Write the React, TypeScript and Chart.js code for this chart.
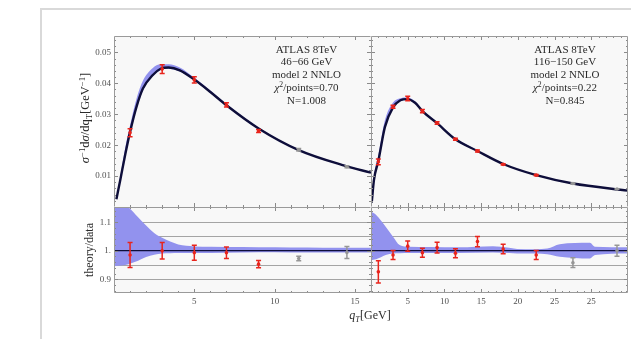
import React, { useEffect, useRef } from "react";
import { Chart, registerables } from "chart.js";

Chart.register(...registerables);

// ---------------- data: left panel (46–66 GeV) ----------------
const binCentersLeft = [1, 3, 5, 7, 9, 11.5, 14.5];
const dataLeft = [0.024, 0.0446, 0.0411, 0.033, 0.0246, 0.0185, 0.013];
const errLeft = [0.0013, 0.0014, 0.001, 0.0007, 0.0005, 0.0004, 0.0003];
const fittedLeft = [true, true, true, true, true, false, false];
const ratioLeft = [0.985, 1.0, 0.993, 0.993, 0.953, 0.973, 0.994];
const ratioErrLeft = [0.044, 0.029, 0.026, 0.02, 0.013, 0.008, 0.021];

const theoryXLeft = [0.15, 0.4, 0.7, 1.0, 1.4, 1.8, 2.4, 2.9, 3.4, 4.1, 5, 6, 7, 9, 11.5, 14.4, 16];
const theoryYLeft = [0.0025, 0.009, 0.017, 0.0243, 0.0324, 0.0383, 0.0426, 0.0447, 0.0451, 0.0442, 0.0412, 0.0372, 0.0329, 0.0254, 0.0184, 0.0133, 0.0111];
const bandUpLeft = [0.0028, 0.0102, 0.0192, 0.0264, 0.035, 0.0408, 0.0449, 0.0462, 0.0462, 0.0451, 0.0418, 0.0377, 0.0333, 0.0257, 0.0186, 0.0135, 0.0113];
const bandLoLeft = [0.0024, 0.0086, 0.0163, 0.0234, 0.0316, 0.0377, 0.0421, 0.0443, 0.0447, 0.0438, 0.0409, 0.0369, 0.0327, 0.0252, 0.0183, 0.0132, 0.011];

const ratioBandXLeft = [0, 0.5, 0.9, 1.5, 2.0, 2.5, 3.0, 3.5, 4.0, 4.5, 5, 6, 8, 10, 12, 14, 16];
const ratioBandUpLeft = [1.17, 1.17, 1.152, 1.117, 1.088, 1.062, 1.045, 1.032, 1.022, 1.017, 1.015, 1.014, 1.013, 1.012, 1.011, 1.01, 1.01];
const ratioBandLoLeft = [0.946, 0.948, 0.953, 0.965, 0.978, 0.986, 0.99, 0.991, 0.992, 0.992, 0.992, 0.992, 0.994, 0.995, 0.994, 0.994, 0.994];

// ---------------- data: right panel (116–150 GeV) ----------------
const binCentersRight = [1, 3, 5, 7, 9, 11.5, 14.5, 18, 22.5, 27.5, 33.5];
const dataRight = [0.0146, 0.0324, 0.0351, 0.031, 0.0272, 0.0219, 0.0181, 0.0138, 0.0103, 0.0076, 0.0058];
const errRight = [0.0009, 0.0005, 0.00075, 0.0005, 0.0004, 0.0003, 0.0003, 0.0002, 0.0002, 0.0002, 0.0001];
const fittedRight = [true, true, true, true, true, true, true, true, true, false, false];
const ratioRight = [0.926, 0.985, 1.016, 0.993, 1.011, 0.991, 1.032, 1.006, 0.985, 0.958, 1.0];
const ratioErrRight = [0.039, 0.016, 0.018, 0.016, 0.019, 0.016, 0.018, 0.017, 0.016, 0.017, 0.019];

const theoryXRight = [0.1, 0.4, 1.0, 1.9, 3.0, 4.0, 4.9, 6.0, 7, 9, 11.5, 14.5, 18, 22.5, 27.5, 35];
const theoryYRight = [0.0014, 0.0087, 0.0149, 0.0259, 0.0322, 0.0345, 0.0349, 0.0337, 0.031, 0.0271, 0.0219, 0.0181, 0.0139, 0.0103, 0.0076, 0.0053];
const bandUpRight = [0.0016, 0.0099, 0.0168, 0.0281, 0.0338, 0.0352, 0.0354, 0.0342, 0.0314, 0.0274, 0.0222, 0.0183, 0.014, 0.0104, 0.0078, 0.0054];
const bandLoRight = [0.0013, 0.0084, 0.0145, 0.0255, 0.0319, 0.0342, 0.0346, 0.0334, 0.0308, 0.0269, 0.0217, 0.018, 0.0138, 0.0102, 0.0074, 0.0052];

const ratioBandXRight = [0, 0.7, 2.0, 3.0, 3.9, 5.2, 8, 12, 16.6, 21, 24, 25.7, 29.8, 30.5, 35];
const ratioBandUpRight = [1.137, 1.125, 1.084, 1.049, 1.02, 1.014, 1.013, 1.012, 1.016, 1.005, 1.008, 1.023, 1.028, 1.014, 1.012];
const ratioBandLoRight = [0.967, 0.97, 0.985, 0.99, 0.991, 0.992, 0.992, 0.992, 0.994, 0.99, 0.988, 0.979, 0.973, 0.985, 0.99];

// ---------------- ticks / labels ----------------
const yTicksTop = [0.01, 0.02, 0.03, 0.04, 0.05];
const yTickLabelsTop = ["0.01", "0.02", "0.03", "0.04", "0.05"];
const yTicksBottom = [0.9, 1.0, 1.1];
const yTickLabelsBottom = ["0.9", "1.", "1.1"];
const yGridBottom = [0.9, 0.95, 1.05, 1.1];
const xTicksLeft = [5, 10, 15];
const xTickLabelsLeft = ["5", "10", "15"];
const xTicksRight = [5, 10, 15, 20, 25, 30];
const xTickLabelsRight = ["5", "10", "15", "20", "25", "25"];
const annotLeft = ["ATLAS 8TeV", "46−66 GeV", "model 2 NNLO", "χ²/points=0.70", "N=1.008"];
const annotRight = ["ATLAS 8TeV", "116−150 GeV", "model 2 NNLO", "χ²/points=0.22", "N=0.845"];

// ---------------- styles ----------------
const FONT = "'Liberation Serif', 'Times New Roman', Times, serif";
const BAND = "rgb(146,146,238)";
const CURVE = "rgb(14,14,58)";
const RED = "rgb(232,36,28)";
const GRAY_PT = "rgb(150,150,150)";
const PLOT_BG = "#f8f8f8";
const FRAME = "#9a9a9a";
const TICK = "#8a8a8a";
const GRID = "#a4a4a4";
const TEXT = "#2a2a2a";
const TICK_TEXT = "#505050";

Chart.defaults.font.family = FONT;

type Seg = { t: string; it?: boolean; sup?: boolean; sub?: boolean };

function richText(ctx: CanvasRenderingContext2D, segs: Seg[], cx: number, cy: number, size: number, vertical: boolean) {
  ctx.save();
  ctx.translate(cx, cy);
  if (vertical) ctx.rotate(-Math.PI / 2);
  const fontOf = (g: Seg) => `${g.it ? "italic " : ""}${g.sup || g.sub ? size * 0.7 : size}px ${FONT}`;
  let total = 0;
  const ws = segs.map((g) => {
    ctx.font = fontOf(g);
    const w = ctx.measureText(g.t).width;
    total += w;
    return w;
  });
  let x = -total / 2;
  const base = size * 0.34;
  ctx.fillStyle = TEXT;
  ctx.textAlign = "left";
  ctx.textBaseline = "alphabetic";
  segs.forEach((g, i) => {
    ctx.font = fontOf(g);
    const dy = g.sup ? -size * 0.38 : g.sub ? size * 0.22 : 0;
    ctx.fillText(g.t, x, base + dy);
    x += ws[i];
  });
  ctx.restore();
}

function lineSegs(line: string): Seg[] {
  if (line.startsWith("χ²")) return [{ t: "χ", it: true }, { t: "2", sup: true }, { t: line.slice(2) }];
  return [{ t: line }];
}

const zip = (xs: number[], ys: number[]) => xs.map((x, i) => ({ x, y: ys[i] }));

const ANNOT_Y = [49, 61.7, 74.3, 87.5, 100.5];

interface Spec {
  left: number; top: number; w: number; h: number;
  padding: { top: number; right: number; bottom: number; left: number };
  xMax: number; yMin: number; yMax: number;
  showX: boolean; showY: boolean;
  xTicks: number[]; xLabels: string[];
  yTicks: number[]; yLabels: string[];
  xMajor: number[]; yMajor: number[]; yMinorStep: number;
  edgeRight: boolean; edgeBottom: boolean;
  bandX: number[]; bandUp: number[]; bandLo: number[];
  lineX?: number[]; lineY?: number[]; unity?: boolean;
  ptX: number[]; ptY: number[]; ptErr: number[]; ptFit: boolean[];
  grid?: number[];
  extra?: (ctx: CanvasRenderingContext2D) => void;
}

function makeConfig(s: Spec): any {
  const colors = s.ptFit.map((f) => (f ? RED : GRAY_PT));
  const datasets: any[] = [
    {
      data: zip(s.bandX, s.bandUp), fill: "+1", backgroundColor: BAND, borderColor: "transparent",
      borderWidth: 0, pointRadius: 0, cubicInterpolationMode: "monotone", order: 4,
    },
    {
      data: zip(s.bandX, s.bandLo), fill: false, borderColor: "transparent",
      borderWidth: 0, pointRadius: 0, cubicInterpolationMode: "monotone", order: 4,
    },
  ];
  if (s.lineX && s.lineY) {
    datasets.push({
      data: zip(s.lineX, s.lineY), borderColor: CURVE, borderWidth: 2.4, pointRadius: 0,
      cubicInterpolationMode: "monotone", fill: false, order: 2,
    });
  }
  if (s.unity) {
    datasets.push({
      data: [{ x: 0, y: 1 }, { x: s.xMax, y: 1 }], borderColor: CURVE, borderWidth: 1.2,
      pointRadius: 0, fill: false, order: 2,
    });
  }
  datasets.push({
    data: zip(s.ptX, s.ptY), showLine: false, pointRadius: 1.8, pointBorderWidth: 0,
    pointBackgroundColor: colors, fill: false, order: 0,
  });

  const decor = {
    id: "decor",
    beforeDraw(chart: any) {
      const { ctx, chartArea: a } = chart;
      ctx.save();
      ctx.fillStyle = PLOT_BG;
      ctx.fillRect(a.left, a.top, a.right - a.left, a.bottom - a.top);
      ctx.restore();
    },
    beforeDatasetsDraw(chart: any) {
      if (!s.grid) return;
      const { ctx, chartArea: a } = chart;
      const ys = chart.scales.y;
      ctx.save();
      ctx.strokeStyle = GRID;
      ctx.lineWidth = 1;
      s.grid.forEach((v) => {
        const py = Math.round(ys.getPixelForValue(v)) + 0.5;
        ctx.beginPath();
        ctx.moveTo(a.left, py);
        ctx.lineTo(a.right, py);
        ctx.stroke();
      });
      ctx.restore();
    },
    afterDatasetsDraw(chart: any) {
      const { ctx } = chart;
      const xs = chart.scales.x;
      const ys = chart.scales.y;
      ctx.save();
      ctx.lineWidth = 1.5;
      s.ptX.forEach((xv, i) => {
        const px = xs.getPixelForValue(xv);
        const y1 = ys.getPixelForValue(s.ptY[i] - s.ptErr[i]);
        const y2 = ys.getPixelForValue(s.ptY[i] + s.ptErr[i]);
        ctx.strokeStyle = colors[i];
        ctx.beginPath();
        ctx.moveTo(px, y1); ctx.lineTo(px, y2);
        ctx.moveTo(px - 2.5, y1); ctx.lineTo(px + 2.5, y1);
        ctx.moveTo(px - 2.5, y2); ctx.lineTo(px + 2.5, y2);
        ctx.stroke();
      });
      ctx.restore();
    },
    afterDraw(chart: any) {
      const { ctx, chartArea: a } = chart;
      const xs = chart.scales.x;
      const ys = chart.scales.y;
      ctx.save();
      ctx.strokeStyle = TICK;
      ctx.lineWidth = 1;
      const xTick = (v: number, len: number) => {
        const px = Math.round(xs.getPixelForValue(v)) + 0.5;
        ctx.beginPath();
        ctx.moveTo(px, a.bottom); ctx.lineTo(px, a.bottom - len);
        ctx.moveTo(px, a.top); ctx.lineTo(px, a.top + len);
        ctx.stroke();
      };
      const yTick = (v: number, len: number) => {
        const py = Math.round(ys.getPixelForValue(v)) + 0.5;
        ctx.beginPath();
        ctx.moveTo(a.left, py); ctx.lineTo(a.left + len, py);
        ctx.moveTo(a.right, py); ctx.lineTo(a.right - len, py);
        ctx.stroke();
      };
      for (let v = 1; v < s.xMax; v++) if (!s.xMajor.includes(v)) xTick(v, 2);
      s.xMajor.forEach((v) => xTick(v, 4));
      const k0 = Math.ceil(s.yMin / s.yMinorStep);
      const k1 = Math.floor(s.yMax / s.yMinorStep);
      for (let k = k0; k <= k1; k++) {
        const v = k * s.yMinorStep;
        if (!s.yMajor.some((m) => Math.abs(m - v) < 1e-9)) yTick(v, 2);
      }
      s.yMajor.forEach((v) => yTick(v, 4));
      ctx.strokeStyle = FRAME;
      ctx.beginPath();
      const L = Math.round(a.left) + 0.5;
      const T = Math.round(a.top) + 0.5;
      const R = Math.round(a.right) - 0.5;
      const B = Math.round(a.bottom) - 0.5;
      ctx.moveTo(L, B); ctx.lineTo(L, T); ctx.lineTo(R, T);
      if (s.edgeRight) { ctx.moveTo(R, T); ctx.lineTo(R, B); }
      if (s.edgeBottom) { ctx.moveTo(L, B); ctx.lineTo(R, B); }
      ctx.stroke();
      ctx.restore();
      if (s.extra) {
        ctx.save();
        ctx.translate(-s.left, -s.top);
        s.extra(ctx);
        ctx.restore();
      }
    },
  };

  return {
    type: "line",
    data: { datasets },
    options: {
      responsive: false,
      maintainAspectRatio: false,
      animation: false,
      devicePixelRatio: 1,
      events: [],
      layout: { padding: s.padding, autoPadding: false },
      plugins: { legend: { display: false }, tooltip: { enabled: false } },
      scales: {
        x: {
          type: "linear", min: 0, max: s.xMax, bounds: "data", display: s.showX,
          grid: { display: false, drawTicks: false }, border: { display: false },
          ticks: {
            autoSkip: false, maxRotation: 0, padding: 3, color: TICK_TEXT,
            font: { family: FONT, size: 9 },
            callback: (_v: any, i: number) => s.xLabels[i] ?? "",
          },
          afterBuildTicks: (sc: any) => { sc.ticks = s.xTicks.map((v) => ({ value: v })); },
          afterFit: (sc: any) => {
            sc.paddingLeft = 0; sc.paddingRight = 0;
            if (s.showX) sc.height = 46;
          },
        },
        y: {
          type: "linear", min: s.yMin, max: s.yMax, bounds: "data", display: s.showY,
          grid: { display: false, drawTicks: false }, border: { display: false },
          ticks: {
            autoSkip: false, padding: 3, color: TICK_TEXT,
            font: { family: FONT, size: 9 },
            callback: (_v: any, i: number) => s.yLabels[i] ?? "",
          },
          afterBuildTicks: (sc: any) => { sc.ticks = s.yTicks.map((v) => ({ value: v })); },
          afterFit: (sc: any) => {
            sc.paddingTop = 0; sc.paddingBottom = 0;
            if (s.showY) sc.width = 74;
          },
        },
      },
    },
    plugins: [decor],
  };
}

const yTitleSegs: Seg[] = [
  { t: "σ", it: true }, { t: "−1", sup: true }, { t: "d" }, { t: "σ", it: true }, { t: "/dq" },
  { t: "T", sub: true }, { t: "[GeV" }, { t: "−1", sup: true }, { t: "]" },
];

const specs: Spec[] = [
  {
    left: 40, top: 30, w: 331, h: 177,
    padding: { top: 6, right: 0, bottom: 0, left: 0 },
    xMax: 16, yMin: 0, yMax: 0.0553, showX: false, showY: true,
    xTicks: [], xLabels: [], yTicks: yTicksTop, yLabels: yTickLabelsTop,
    xMajor: xTicksLeft, yMajor: yTicksTop, yMinorStep: 0.002,
    edgeRight: false, edgeBottom: false,
    bandX: theoryXLeft, bandUp: bandUpLeft, bandLo: bandLoLeft,
    lineX: theoryXLeft, lineY: theoryYLeft,
    ptX: binCentersLeft, ptY: dataLeft, ptErr: errLeft, ptFit: fittedLeft,
    extra: (ctx) => {
      annotLeft.forEach((line, i) => richText(ctx, lineSegs(line), 306.5, ANNOT_Y[i], 11, false));
      richText(ctx, yTitleSegs, 85, 118, 12.5, true);
    },
  },
  {
    left: 371, top: 30, w: 260, h: 177,
    padding: { top: 6, right: 3, bottom: 0, left: 0 },
    xMax: 35, yMin: 0, yMax: 0.0553, showX: false, showY: false,
    xTicks: [], xLabels: [], yTicks: yTicksTop, yLabels: yTickLabelsTop,
    xMajor: [5, 10, 15, 20, 25, 30], yMajor: yTicksTop, yMinorStep: 0.002,
    edgeRight: true, edgeBottom: false,
    bandX: theoryXRight, bandUp: bandUpRight, bandLo: bandLoRight,
    lineX: theoryXRight, lineY: theoryYRight,
    ptX: binCentersRight, ptY: dataRight, ptErr: errRight, ptFit: fittedRight,
    extra: (ctx) => {
      annotRight.forEach((line, i) => richText(ctx, lineSegs(line), 565, ANNOT_Y[i], 11, false));
    },
  },
  {
    left: 40, top: 207, w: 591, h: 132,
    padding: { top: 0, right: 260, bottom: 0, left: 0 },
    xMax: 16, yMin: 0.852, yMax: 1.153, showX: true, showY: true,
    xTicks: xTicksLeft, xLabels: xTickLabelsLeft, yTicks: yTicksBottom, yLabels: yTickLabelsBottom,
    xMajor: xTicksLeft, yMajor: yTicksBottom, yMinorStep: 0.02,
    edgeRight: false, edgeBottom: true,
    bandX: ratioBandXLeft, bandUp: ratioBandUpLeft, bandLo: ratioBandLoLeft,
    unity: true, grid: yGridBottom,
    ptX: binCentersLeft, ptY: ratioLeft, ptErr: ratioErrLeft, ptFit: fittedLeft,
    extra: (ctx) => {
      richText(ctx, [{ t: "theory/data" }], 89, 250, 12, true);
      richText(ctx, [{ t: "q", it: true }, { t: "T", it: true, sub: true }, { t: "[GeV]" }], 370, 315, 12, false);
    },
  },
  {
    left: 371, top: 207, w: 260, h: 132,
    padding: { top: 0, right: 3, bottom: 0, left: 0 },
    xMax: 35, yMin: 0.852, yMax: 1.153, showX: true, showY: false,
    xTicks: xTicksRight, xLabels: xTickLabelsRight, yTicks: yTicksBottom, yLabels: yTickLabelsBottom,
    xMajor: [5, 10, 15, 20, 25, 30], yMajor: yTicksBottom, yMinorStep: 0.02,
    edgeRight: true, edgeBottom: true,
    bandX: ratioBandXRight, bandUp: ratioBandUpRight, bandLo: ratioBandLoRight,
    unity: true, grid: yGridBottom,
    ptX: binCentersRight, ptY: ratioRight, ptErr: ratioErrRight, ptFit: fittedRight,
  },
];

function Panel({ s }: { s: Spec }) {
  const ref = useRef<HTMLCanvasElement>(null);
  useEffect(() => {
    const chart = new Chart(ref.current as HTMLCanvasElement, makeConfig(s));
    return () => chart.destroy();
  }, [s]);
  return (
    <canvas
      ref={ref}
      width={s.w}
      height={s.h}
      style={{ position: "absolute", left: s.left, top: s.top, width: s.w, height: s.h }}
    />
  );
}

export default function App() {
  return (
    <div style={{ position: "absolute", left: 0, top: 0, width: 631, height: 339, overflow: "hidden", background: "#fff" }}>
      <div
        style={{
          position: "absolute", left: 40, top: 8, width: 620, height: 360,
          borderLeft: "2px solid #d9d9d9", borderTop: "2px solid #d9d9d9",
        }}
      />
      {specs.map((s, i) => (
        <Panel key={i} s={s} />
      ))}
    </div>
  );
}
